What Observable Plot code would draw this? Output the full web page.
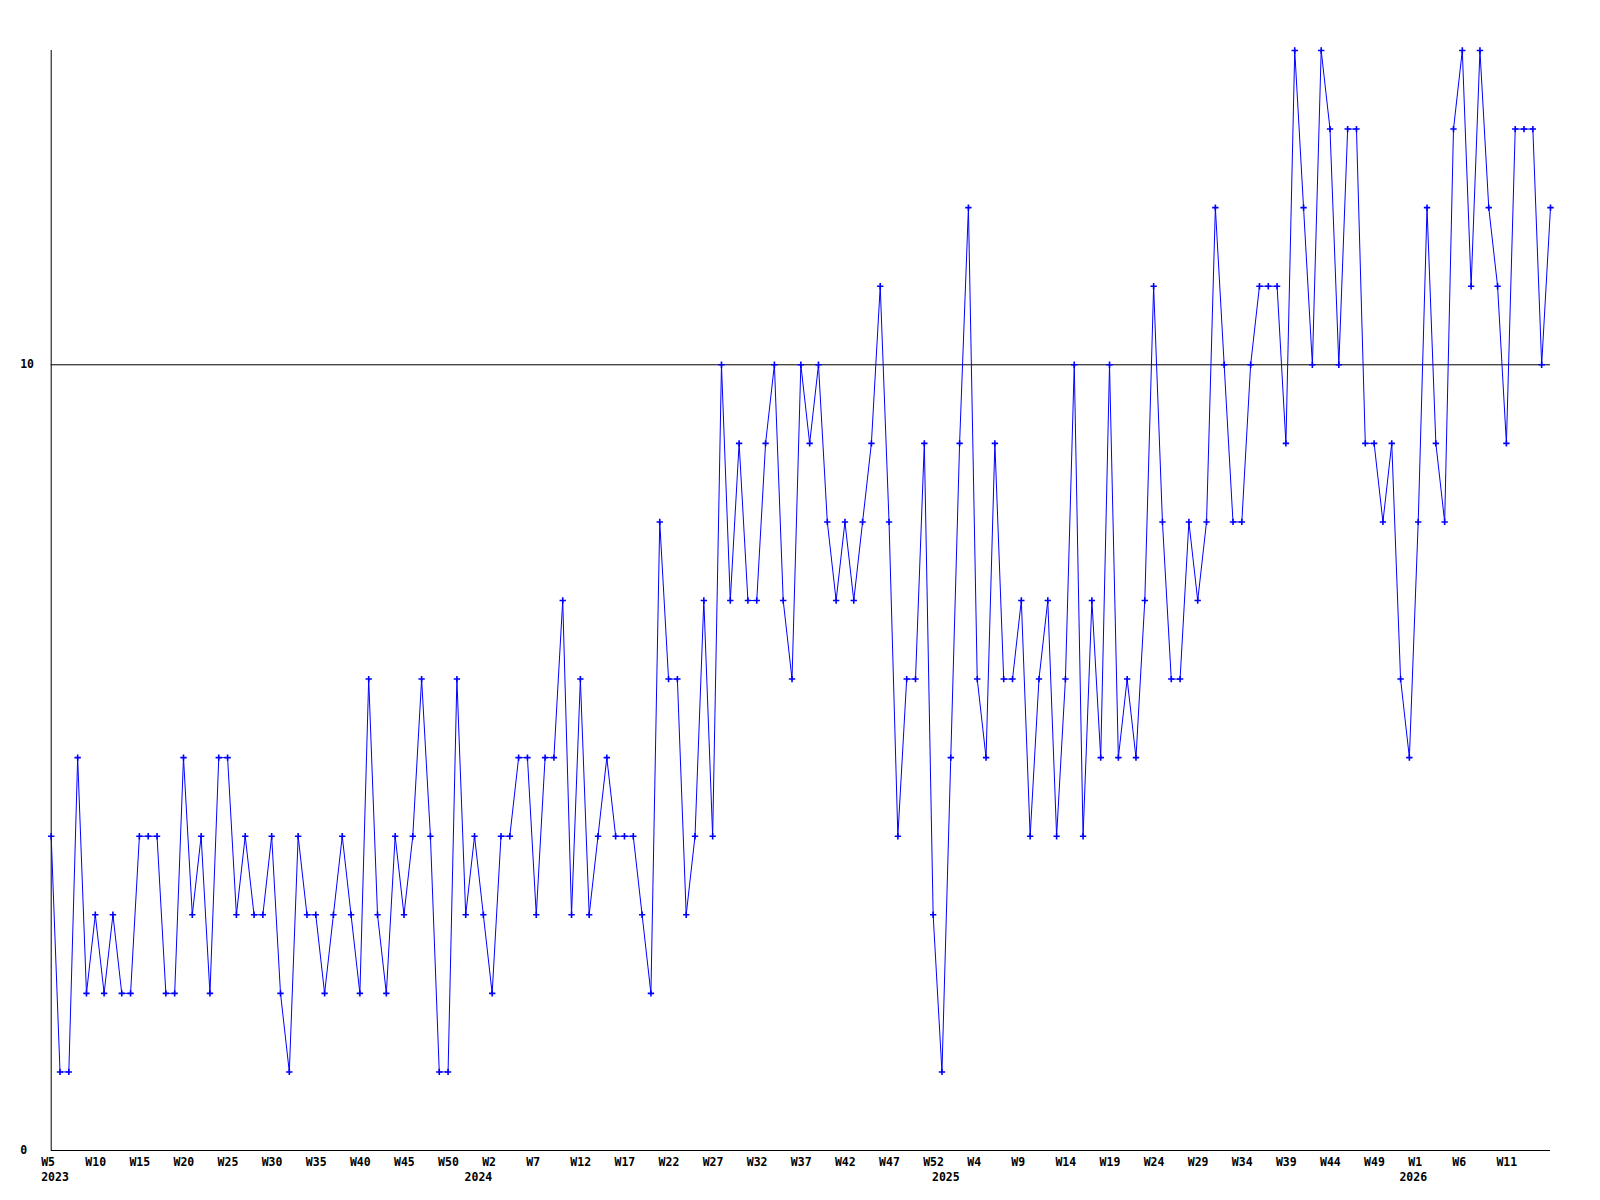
<!DOCTYPE html>
<html>
<head>
<meta charset="utf-8">
<script src="https://cdn.jsdelivr.net/npm/d3@7"></script>
<script src="https://cdn.jsdelivr.net/npm/@observablehq/plot@0.6"></script>
<style>
  html, body { margin: 0; padding: 0; background: #ffffff; }
  #chart svg { display: block; }
</style>
</head>
<body>
<div id="chart"></div>
<script>
// Weekly values, one per week slot, starting at 2023 W5
const values = [
  4, 1, 1, 5, 2, 3, 2, 3, 2, 2,
  4, 4, 4, 2, 2, 5, 3, 4, 2, 5,
  5, 3, 4, 3, 3, 4, 2, 1, 4, 3,
  3, 2, 3, 4, 3, 2, 6, 3, 2, 4,
  3, 4, 6, 4, 1, 1, 6, 3, 4, 3,
  2, 4, 4, 5, 5, 3, 5, 5, 7, 3,
  6, 3, 4, 5, 4, 4, 4, 3, 2, 8,
  6, 6, 3, 4, 7, 4, 10, 7, 9, 7,
  7, 9, 10, 7, 6, 10, 9, 10, 8, 7,
  8, 7, 8, 9, 11, 8, 4, 6, 6, 9,
  3, 1, 5, 9, 12, 6, 5, 9, 6, 6,
  7, 4, 6, 7, 4, 6, 10, 4, 7, 5,
  10, 5, 6, 5, 7, 11, 8, 6, 6, 8,
  7, 8, 12, 10, 8, 8, 10, 11, 11, 11,
  9, 14, 12, 10, 14, 13, 10, 13, 13, 9,
  9, 8, 9, 6, 5, 8, 12, 9, 8, 13,
  14, 11, 14, 12, 11, 9, 13, 13, 13, 10,
  12
];

// Week tick labels, one every 5 week slots
const tickLabels = [
  "W5", "W10", "W15", "W20", "W25", "W30", "W35", "W40", "W45", "W50",
  "W2", "W7", "W12", "W17", "W22", "W27", "W32", "W37", "W42", "W47", "W52",
  "W4", "W9", "W14", "W19", "W24", "W29", "W34", "W39", "W44", "W49",
  "W1", "W6", "W11"
];
const tickStep = 5;

// Year labels and the week slot each sits under
const yearLabels = ["2023", "2024", "2025", "2026"];
const yearSlots = [0, 48, 101, 154];

// Y axis labels
const yLabels = [0, 10];
const yMax = 14;

const data = values.map((v, i) => ({i, v}));
const ticks = tickLabels.map((t, k) => ({i: k * tickStep, t}));
const years = yearLabels.map((t, k) => ({i: yearSlots[k], t}));

const font = "DejaVu Sans Mono";
const blue = "#0000ff";

const chart = Plot.plot({
  width: 1600,
  height: 1200,
  marginLeft: 50.7,
  marginRight: 50,
  marginTop: 50,
  marginBottom: 50,
  style: {background: "#ffffff", fontFamily: font},
  x: {domain: [0, values.length - 1], axis: null},
  y: {domain: [0, yMax], axis: null},
  marks: [
    Plot.ruleY([10], {stroke: "#000000", strokeWidth: 1}),
    Plot.ruleY([0], {stroke: "#000000", strokeWidth: 1}),
    Plot.ruleX([0], {stroke: "#000000", strokeWidth: 1}),
    Plot.line(data, {x: "i", y: "v", stroke: blue, strokeWidth: 1}),
    Plot.dot(data, {x: "i", y: "v", symbol: "plus", r: 2.2, stroke: blue, strokeWidth: 1.6}),
    Plot.text(ticks, {
      x: "i", y: () => 0, text: "t", textAnchor: "start", lineAnchor: "bottom",
      dx: -10, dy: 15, fontSize: 11.5, fontWeight: "bold", fontFamily: font, fill: "#000000"
    }),
    Plot.text(years, {
      x: "i", y: () => 0, text: "t", textAnchor: "start", lineAnchor: "bottom",
      dx: -10, dy: 30, fontSize: 11.5, fontWeight: "bold", fontFamily: font, fill: "#000000"
    }),
    Plot.text(yLabels, {
      frameAnchor: "left", y: d => d, text: d => String(d), textAnchor: "start",
      dx: -31, fontSize: 11.5, fontWeight: "bold", fontFamily: font, fill: "#000000"
    })
  ]
});

document.getElementById("chart").appendChild(chart);
</script>
</body>
</html>
